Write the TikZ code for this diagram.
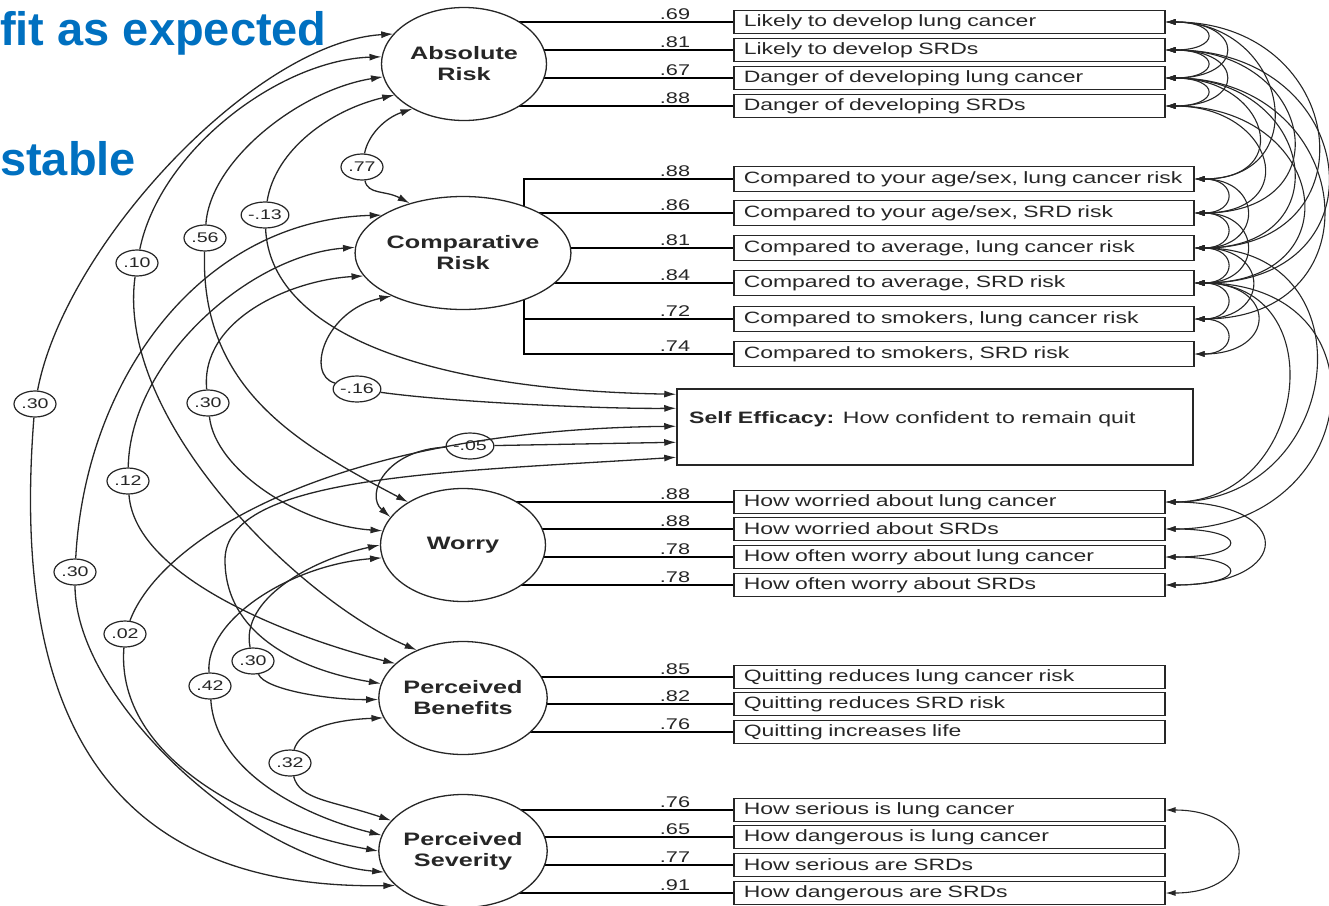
\documentclass[tikz,border=0pt]{standalone}
\usepackage{fontspec}
\setmainfont{Liberation Sans}
\newfontfamily\widefont{Liberation Sans}[FakeStretch=1.4]
\usetikzlibrary{arrows.meta,shapes.geometric,calc,backgrounds}
\definecolor{slideblue}{RGB}{0,112,192}

\begin{document}
\begin{tikzpicture}[x=1pt, y=-1pt, color=black!85,
    >={Latex[length=12pt,width=7pt]},
    latent/.style={draw, ellipse, fill=white, line width=1.3pt,
      minimum width=165pt, minimum height=113pt, inner sep=0pt,
      align=center, font=\widefont\fontsize{18}{21}\selectfont\bfseries},
    indicator/.style={draw, line width=1.5pt, anchor=west, minimum height=23pt,
      inner xsep=10pt, inner ysep=0pt, align=left,
      font=\widefont\fontsize{16.4}{18}\selectfont},
    cov/.style={draw, ellipse, fill=white, line width=1.2pt,
      minimum width=42pt, minimum height=26pt, inner sep=0pt,
      font=\widefont\fontsize{14}{16}\selectfont},
    loading/.style={anchor=south, inner sep=1pt,
      font=\widefont\fontsize{15.5}{17}\selectfont},
    corr/.style={->, line width=1.3pt},
    errcorr/.style={>={Latex[length=10pt,width=6pt]}, <->, line width=1.1pt},
    headline/.style={anchor=base west, inner sep=0pt, text=slideblue,
      font=\fontsize{47}{50}\selectfont\bfseries}]

    \useasboundingbox (0,0) rectangle (1329,905);

    % slide text
    \node[headline] (fit) at (0,45) {fit as expected};
    \node[headline] (stable) at (0,175) {stable};

    % latent factors
    \node[latent] (ar) at (464,64) {Absolute\\Risk};
    \node[latent] (cr) at (463,253) {Comparative\\Risk};
    \node[latent] (w) at (463,545) {Worry};
    \node[latent] (pb) at (463,698) {Perceived\\Benefits};
    \node[latent] (ps) at (463,851) {Perceived\\Severity};

    % absolute risk items
    \node[indicator, text width=411pt] (a1) at (733,22) {Likely to develop lung cancer};
    \node[indicator, text width=411pt] (a2) at (733,50) {Likely to develop SRDs};
    \node[indicator, text width=411pt] (a3) at (733,78) {Danger of developing lung cancer};
    \node[indicator, text width=411pt] (a4) at (733,106) {Danger of developing SRDs};

    % comparative risk items
    \node[indicator, text width=440pt, minimum height=25pt] (c1) at (733,179) {Compared to your age/sex, lung cancer risk};
    \node[indicator, text width=440pt, minimum height=25pt] (c2) at (733,213) {Compared to your age/sex, SRD risk};
    \node[indicator, text width=440pt, minimum height=25pt] (c3) at (733,248) {Compared to average, lung cancer risk};
    \node[indicator, text width=440pt, minimum height=25pt] (c4) at (733,283) {Compared to average, SRD risk};
    \node[indicator, text width=440pt, minimum height=25pt] (c5) at (733,319) {Compared to smokers, lung cancer risk};
    \node[indicator, text width=440pt, minimum height=25pt] (c6) at (733,354) {Compared to smokers, SRD risk};

    % self efficacy
    \node[draw, line width=1.5pt, minimum width=516pt, minimum height=76pt,
      inner sep=0pt] (se) at (935,427) {};
    \node[anchor=west, inner sep=0pt, font=\widefont\fontsize{16.5}{18}\selectfont]
      (setext) at (689,419) {\textbf{Self Efficacy:} How confident to remain quit};

    % worry items
    \node[indicator, text width=411pt] (w1) at (733,502) {How worried about lung cancer};
    \node[indicator, text width=411pt] (w2) at (733,529) {How worried about SRDs};
    \node[indicator, text width=411pt] (w3) at (733,557) {How often worry about lung cancer};
    \node[indicator, text width=411pt] (w4) at (733,585) {How often worry about SRDs};

    % benefits items
    \node[indicator, text width=411pt] (b1) at (733,677) {Quitting reduces lung cancer risk};
    \node[indicator, text width=411pt] (b2) at (733,704) {Quitting reduces SRD risk};
    \node[indicator, text width=411pt] (b3) at (733,732) {Quitting increases life};

    % severity items
    \node[indicator, text width=411pt] (s1) at (733,810) {How serious is lung cancer};
    \node[indicator, text width=411pt] (s2) at (733,837) {How dangerous is lung cancer};
    \node[indicator, text width=411pt] (s3) at (733,865) {How serious are SRDs};
    \node[indicator, text width=411pt] (s4) at (733,893) {How dangerous are SRDs};

    % loadings
    \begin{pgfonlayer}{background}
      \draw[line width=1.3pt] (ar |- a1) -- (a1.west);
      \draw[line width=1.3pt] (ar |- a2) -- (a2.west);
      \draw[line width=1.3pt] (ar |- a3) -- (a3.west);
      \draw[line width=1.3pt] (ar |- a4) -- (a4.west);
      \draw[line width=1.3pt] (c1.west) -- ++(-209,0) |- (c6.west);
      \draw[line width=1.3pt] (c2.west) -- ++(-209,0);
      \draw[line width=1.3pt] (cr |- c3) -- (c3.west);
      \draw[line width=1.3pt] (cr |- c4) -- (c4.west);
      \draw[line width=1.3pt] (c5.west) -- ++(-209,0);
      \draw[line width=1.3pt] (w |- w1) -- (w1.west);
      \draw[line width=1.3pt] (w |- w2) -- (w2.west);
      \draw[line width=1.3pt] (w |- w3) -- (w3.west);
      \draw[line width=1.3pt] (w |- w4) -- (w4.west);
      \draw[line width=1.3pt] (pb |- b1) -- (b1.west);
      \draw[line width=1.3pt] (pb |- b2) -- (b2.west);
      \draw[line width=1.3pt] (pb |- b3) -- (b3.west);
      \draw[line width=1.3pt] (ps |- s1) -- (s1.west);
      \draw[line width=1.3pt] (ps |- s2) -- (s2.west);
      \draw[line width=1.3pt] (ps |- s3) -- (s3.west);
      \draw[line width=1.3pt] (ps |- s4) -- (s4.west);
    \end{pgfonlayer}
    \node[loading] (la1) at (675,21) {.69};
    \node[loading] (la2) at (675,49) {.81};
    \node[loading] (la3) at (675,77) {.67};
    \node[loading] (la4) at (675,105) {.88};
    \node[loading] (lc1) at (675,178) {.88};
    \node[loading] (lc2) at (675,212) {.86};
    \node[loading] (lc3) at (675,247) {.81};
    \node[loading] (lc4) at (675,282) {.84};
    \node[loading] (lc5) at (675,318) {.72};
    \node[loading] (lc6) at (675,353) {.74};
    \node[loading] (lw1) at (675,501) {.88};
    \node[loading] (lw2) at (675,528) {.88};
    \node[loading] (lw3) at (675,556) {.78};
    \node[loading] (lw4) at (675,584) {.78};
    \node[loading] (lb1) at (675,676) {.85};
    \node[loading] (lb2) at (675,703) {.82};
    \node[loading] (lb3) at (675,731) {.76};
    \node[loading] (ls1) at (675,809) {.76};
    \node[loading] (ls2) at (675,836) {.65};
    \node[loading] (ls3) at (675,864) {.77};
    \node[loading] (ls4) at (675,892) {.91};

    % absolute <-> comparative
    \node[cov] (c77) at (362,167) {.77};
    \draw[corr] (c77) .. controls (368,135) and (385,118) .. (ar.221);
    \draw[corr] (c77) .. controls (368,195) and (385,190) .. (cr.137);

    % absolute <-> severity
    \node[cov] (c30a) at (35,404) {.30};
    \draw[corr] (c30a) .. controls (65,245) and (255,42) .. (ar.157);
    \draw[corr] (c30a) .. controls (10,720) and (110,890) .. (ps.207);

    % absolute <-> benefits
    \node[cov] (c10) at (137,263) {.10};
    \draw[corr] (c10) .. controls (160,150) and (280,60) .. (ar.175);
    \draw[corr] (c10) .. controls (115,420) and (300,600) .. (pb.134);

    % absolute <-> worry
    \node[cov] (c56) at (205,238) {.56};
    \draw[corr] (c56) .. controls (210,160) and (300,90) .. (ar.189);
    \draw[corr] (c56) .. controls (200,390) and (300,445) .. (w.142);

    % absolute <-> self efficacy
    \node[cov] (c13) at (265,215) {-.13};
    \draw[corr] (c13) .. controls (275,150) and (330,110) .. (ar.204);
    \draw[corr] (c13) .. controls (270,330) and (420,390) .. ($(se.north west)+(0,6)$);

    % comparative <-> self efficacy
    \node[cov] (c16) at (357,389) {-.16};
    \draw[corr] (c16) .. controls (305,375) and (325,310) .. (cr.211);
    \draw[corr] (c16) .. controls (450,402) and (600,409) .. ($(se.north west)+(0,20)$);

    % comparative <-> severity
    \node[cov] (c30b) at (75,572) {.30};
    \draw[corr] (c30b) .. controls (85,380) and (200,220) .. (cr.155);
    \draw[corr] (c30b) .. controls (75,700) and (250,860) .. (ps.195);

    % comparative <-> benefits
    \node[cov] (c12) at (128,481) {.12};
    \draw[corr] (c12) .. controls (130,360) and (250,255) .. (cr.177);
    \draw[corr] (c12) .. controls (135,580) and (300,640) .. (pb.153);

    % comparative <-> worry
    \node[cov] (c30c) at (208,403) {.30};
    \draw[corr] (c30c) .. controls (200,320) and (290,280) .. (cr.193);
    \draw[corr] (c30c) .. controls (215,470) and (300,525) .. (w.170);

    % worry <-> self efficacy
    \node[cov] (c05) at (470,446) {-.05};
    \draw[corr] (c05) .. controls (385,450) and (365,495) .. (w.159);
    \draw[corr] (c05) -- ($(se.north west)+(0,54)$);

    % severity <-> self efficacy
    \node[cov] (c02) at (125,634) {.02};
    \draw[corr] (c02) .. controls (160,540) and (330,430) .. ($(se.north west)+(0,38)$);
    \draw[corr] (c02) .. controls (115,760) and (260,830) .. (ps.180);

    % benefits <-> self efficacy
    \draw[corr, <->] ($(se.north west)+(0,69)$) .. controls (450,472) and (225,475) .. (225,560)
      .. controls (225,640) and (310,672) .. (pb.170);

    % worry <-> benefits
    \node[cov] (c30d) at (253,661) {.30};
    \draw[corr] (c30d) .. controls (240,600) and (310,560) .. (w.180);
    \draw[corr] (c30d) .. controls (265,690) and (330,700) .. (pb.181);

    % worry <-> severity
    \node[cov] (c42) at (210,686) {.42};
    \draw[corr] (c42) .. controls (205,620) and (290,565) .. (w.189);
    \draw[corr] (c42) .. controls (215,770) and (300,815) .. (ps.169);

    % benefits <-> severity
    \node[cov] (c32) at (290,763) {.32};
    \draw[corr] (c32) .. controls (300,730) and (330,720) .. (pb.194);
    \draw[corr] (c32) .. controls (300,800) and (330,800) .. (ps.157);

    % error covariances, absolute risk items
    \draw[errcorr] (a1.east) .. controls +(55,0) and +(55,0) .. (a2.east);
    \draw[errcorr] (a2.east) .. controls +(55,0) and +(55,0) .. (a3.east);
    \draw[errcorr] (a3.east) .. controls +(55,0) and +(55,0) .. (a4.east);
    \draw[errcorr] (a1.east) .. controls +(80,0) and +(80,0) .. (a3.east);
    \draw[errcorr] (a2.east) .. controls +(80,0) and +(80,0) .. (a4.east);

    % absolute risk items <-> comparative risk items
    \draw[errcorr] (a1.east) .. controls +(122,0) and +(122,0) .. (c1.east);
    \draw[errcorr] (a1.east) .. controls +(182,0) and +(182,0) .. (c3.east);
    \draw[errcorr] (a2.east) .. controls +(149,0) and +(149,0) .. (c2.east);
    \draw[errcorr] (a2.east) .. controls +(195,0) and +(195,0) .. (c4.east);
    \draw[errcorr] (a3.east) .. controls +(102,0) and +(102,0) .. (c1.east);
    \draw[errcorr] (a3.east) .. controls +(149,0) and +(149,0) .. (c3.east);
    \draw[errcorr] (a3.east) .. controls +(189,0) and +(189,0) .. (c5.east);
    \draw[errcorr] (a4.east) .. controls +(109,0) and +(109,0) .. (c2.east);
    \draw[errcorr] (a4.east) .. controls +(162,0) and +(162,0) .. (c4.east);

    % comparative risk items
    \draw[errcorr] (c1.east) .. controls +(43,0) and +(43,0) .. (c2.east);
    \draw[errcorr] (c2.east) .. controls +(43,0) and +(43,0) .. (c3.east);
    \draw[errcorr] (c3.east) .. controls +(43,0) and +(43,0) .. (c4.east);
    \draw[errcorr] (c4.east) .. controls +(43,0) and +(43,0) .. (c5.east);
    \draw[errcorr] (c5.east) .. controls +(43,0) and +(43,0) .. (c6.east);
    \draw[errcorr] (c1.east) .. controls +(69,0) and +(69,0) .. (c3.east);
    \draw[errcorr] (c2.east) .. controls +(69,0) and +(69,0) .. (c4.east);
    \draw[errcorr] (c3.east) .. controls +(76,0) and +(76,0) .. (c5.east);
    \draw[errcorr] (c4.east) .. controls +(83,0) and +(83,0) .. (c6.east);

    % comparative risk items <-> worry items
    \draw[errcorr] (c3.east) .. controls +(179,0) and +(179,0) .. (w1.east);
    \draw[errcorr] (c4.east) .. controls +(142,0) and +(142,0) .. (w1.east);
    \draw[errcorr] (c4.east) .. controls +(198,0) and +(198,0) .. (w2.east);

    % worry items
    \draw[errcorr] (w1.east) .. controls +(130,0) and +(130,0) .. (w4.east);
    \draw[errcorr] (w2.east) .. controls +(84,0) and +(84,0) .. (w3.east);
    \draw[errcorr] (w3.east) .. controls +(84,0) and +(84,0) .. (w4.east);

    % severity items
    \draw[errcorr] (s1.east) .. controls +(95,0) and +(95,0) .. (s4.east);
  \end{tikzpicture}
\end{document}
